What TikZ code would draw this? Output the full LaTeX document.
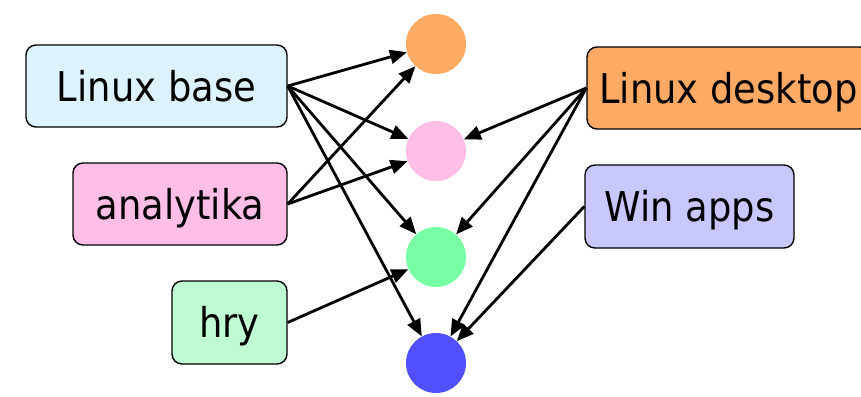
\documentclass[tikz,border=0pt]{standalone}
\usepackage{fontspec}
\setmainfont{DejaVu Sans Condensed}
\usetikzlibrary{arrows.meta}
\definecolor{basefill}{RGB}{220,243,253}
\definecolor{anafill}{RGB}{255,190,230}
\definecolor{gamefill}{RGB}{190,250,210}
\definecolor{deskfill}{RGB}{255,170,100}
\definecolor{winfill}{RGB}{200,200,255}
\definecolor{dotorange}{RGB}{255,170,100}
\definecolor{dotpink}{RGB}{255,190,230}
\definecolor{dotgreen}{RGB}{120,255,165}
\definecolor{dotblue}{RGB}{80,80,255}
\begin{document}
\begin{tikzpicture}[x=1pt,y=-1pt,
  box/.style={draw=black, line width=1.4pt, rounded corners=10pt, inner sep=0pt,
    font=\fontsize{41}{41}\selectfont, text height=30pt, text depth=0pt},
  dot/.style={circle, minimum size=60pt, inner sep=0pt},
  link/.style={line width=2.8pt, -{Triangle[length=17pt,width=14pt]}}]
  \useasboundingbox (0,0) rectangle (861,396);

  % package boxes
  \node[box, fill=basefill, minimum width=261pt, minimum height=82pt] (lb) at (156.5,86) {Linux base};
  \node[box, fill=anafill, minimum width=214pt, minimum height=82pt] (an) at (180,204) {analytika};
  \node[box, fill=gamefill, minimum width=115pt, minimum height=83pt] (hr) at (229.5,322.5) {hry};
  \node[box, fill=deskfill, minimum width=283pt, minimum height=82pt] (ld) at (728.5,88) {Linux desktop};
  \node[box, fill=winfill, minimum width=209pt, minimum height=83pt] (wa) at (689.5,206.5) {Win apps};

  % target dots
  \node[dot, fill=dotorange] (c1) at (436,44) {};
  \node[dot, fill=dotpink] (c2) at (436,151) {};
  \node[dot, fill=dotgreen] (c3) at (436,257) {};
  \node[dot, fill=dotblue] (c4) at (436,363) {};

  % dependencies
  \draw[link] (lb.east) -- (c1);
  \draw[link] (lb.east) -- (c2);
  \draw[link] (lb.east) -- (c3);
  \draw[link] (lb.east) -- (c4);
  \draw[link] (an.east) -- (c1);
  \draw[link] (an.east) -- (c2);
  \draw[link] (hr.east) -- (c3);
  \draw[link] (ld.west) -- (c2);
  \draw[link] (ld.west) -- (c3);
  \draw[link] (ld.west) -- (c4);
  \draw[link] (wa.west) -- (c4);
\end{tikzpicture}
\end{document}
